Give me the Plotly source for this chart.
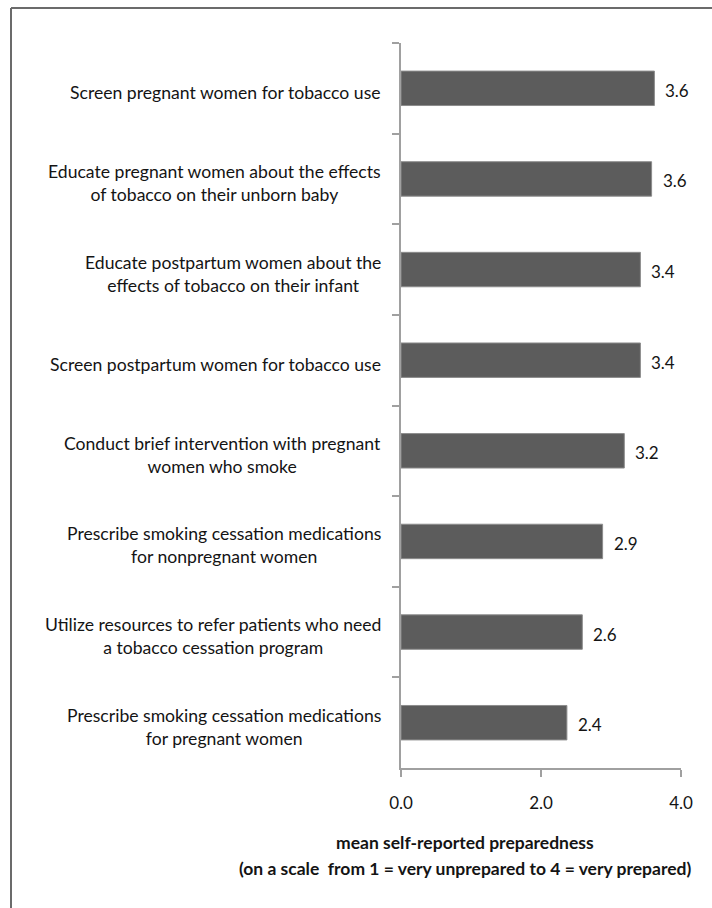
import plotly.graph_objects as go

categories = [
    "Screen pregnant women for tobacco use",
    "Educate pregnant women about the effects<br>of tobacco on their unborn baby",
    "Educate postpartum women about the<br>effects of tobacco on their infant",
    "Screen postpartum women for tobacco use",
    "Conduct brief intervention with pregnant<br>women who smoke",
    "Prescribe smoking cessation medications<br>for nonpregnant women",
    "Utilize resources to refer patients who need<br>a tobacco cessation program",
    "Prescribe smoking cessation medications<br>for pregnant women",
]
values = [3.62, 3.58, 3.42, 3.42, 3.19, 2.88, 2.59, 2.37]
x_ticks = [0.0, 2.0, 4.0]
x_tick_labels = ["0.0", "2.0", "4.0"]
axis_title_lines = [
    "mean self-reported preparedness",
    "(on a scale  from 1 = very unprepared to 4 = very prepared)",
]

W, H = 712, 908
L, R, T, B = 401, 31, 43, 140
PW, PH = W - L - R, H - T - B


def px_x(p):
    return (p - L) / PW


def px_y(p):
    return (H - B - p) / PH


FONT = "Lato"
TXT = "#141414"
AX = "#a0a0a0"

fig = go.Figure()
fig.add_trace(go.Bar(
    x=values,
    y=categories,
    orientation="h",
    width=0.38,
    marker=dict(color="#5c5c5c", line=dict(color="#8c8c8c", width=1)),
    hoverinfo="skip",
))

annotations = []
for c in categories:
    annotations.append(dict(
        x=0, xref="paper", y=c, yref="y", text=c, showarrow=False,
        xanchor="right", yanchor="middle", align="center", xshift=-18, yshift=-4,
        font=dict(family=FONT, size=17.6, color=TXT),
    ))
for c, v in zip(categories, values):
    annotations.append(dict(
        x=v, xref="x", y=c, yref="y", text=f"{v:.1f}", showarrow=False,
        xanchor="left", yanchor="middle", xshift=9, yshift=-2,
        font=dict(family=FONT, size=17, color=TXT),
    ))
title_y_px = [842, 868]
for line, ypx in zip(axis_title_lines, title_y_px):
    annotations.append(dict(
        x=px_x(465), xref="paper", y=px_y(ypx), yref="paper", text=f"<b>{line}</b>",
        showarrow=False, xanchor="center", yanchor="middle",
        font=dict(family=FONT, size=17.5, color=TXT),
    ))

fig.update_layout(
    width=W, height=H,
    margin=dict(l=L, r=R, t=T, b=B, pad=0),
    paper_bgcolor="white", plot_bgcolor="white",
    showlegend=False,
    bargap=0.62,
    annotations=annotations,
    shapes=[
        dict(type="line", xref="paper", yref="paper", x0=px_x(11), x1=px_x(760),
             y0=px_y(8), y1=px_y(8), line=dict(color="#6b6b6b", width=2)),
        dict(type="line", xref="paper", yref="paper", x0=px_x(11), x1=px_x(11),
             y0=px_y(8), y1=px_y(960), line=dict(color="#6b6b6b", width=2)),
    ],
    xaxis=dict(
        range=[0, 4], tickvals=x_ticks, ticktext=x_tick_labels,
        showgrid=False, zeroline=False,
        showline=True, linecolor=AX, linewidth=1.5,
        ticks="outside", ticklen=7, tickcolor=AX, tickwidth=1.5,
        tickfont=dict(family=FONT, size=17, color=TXT),
        ticklabelstandoff=12,
    ),
    yaxis=dict(
        type="category", autorange="reversed",
        showgrid=False, zeroline=False,
        showline=True, linecolor=AX, linewidth=1.5,
        ticks="outside", ticklen=7, tickcolor=AX, tickwidth=1.5,
        tickson="boundaries", showticklabels=False,
    ),
)

fig.write_html("out.html")
